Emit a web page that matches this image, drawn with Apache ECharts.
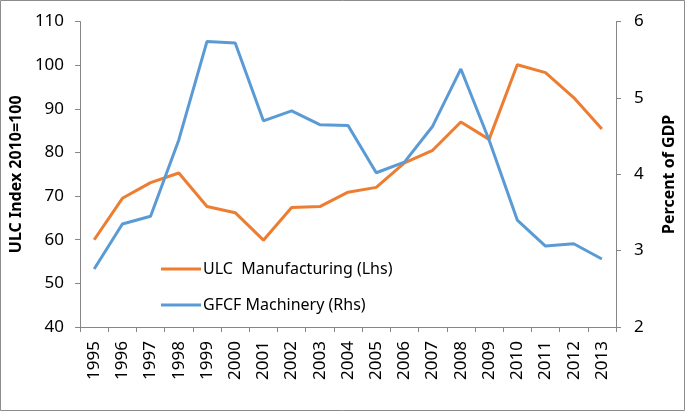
<!DOCTYPE html>
<html>
<head>
<meta charset="utf-8">
<script src="https://cdn.jsdelivr.net/npm/echarts@6/dist/echarts.min.js"></script>
<style>
html,body{margin:0;padding:0;background:#fff;}
#c{width:685px;height:411px;}
</style>
</head>
<body>
<div id="c"></div>
<script>
const years = ['1995','1996','1997','1998','1999','2000','2001','2002','2003','2004','2005','2006','2007','2008','2009','2010','2011','2012','2013'];
const ulcManufacturing = [60.0,69.5,73.1,75.3,67.6,66.2,59.9,67.4,67.6,70.9,72.0,77.6,80.5,87.0,83.0,100.1,98.3,92.6,85.4];
const gfcfMachinery = [2.76,3.35,3.45,4.45,5.74,5.72,4.70,4.83,4.65,4.64,4.02,4.16,4.63,5.38,4.45,3.40,3.06,3.09,2.89];
const leftTicks = {min:40,max:110,interval:10};
const rightTicks = {min:2,max:6,interval:1};

const font = 'Noto Sans, sans-serif';
const axisGray = '#868686';
const chart = echarts.init(document.getElementById('c'));
chart.setOption({
  animation:false,
  backgroundColor:'#fff',
  graphic:[{type:'rect',shape:{x:0.5,y:0.5,width:684,height:410},style:{fill:'none',stroke:'#8c8c8c',lineWidth:1},silent:true}],
  grid:{left:67,right:63,top:21.6,bottom:84,containLabel:false},
  legend:{
    orient:'vertical',left:156,top:256,itemGap:20,itemWidth:40,itemHeight:3,icon:'rect',
    textStyle:{fontFamily:font,fontSize:16,color:'#000',padding:[0,0,0,-3]},
    data:[{name:'ULC  Manufacturing (Lhs)'},{name:'GFCF Machinery (Rhs)'}]
  },
  xAxis:{
    type:'category',data:years,boundaryGap:true,
    axisLine:{lineStyle:{color:axisGray,width:1}},
    axisTick:{show:true,length:5,lineStyle:{color:axisGray}},
    axisLabel:{rotate:90,margin:14,fontFamily:font,fontSize:17,color:'#000',interval:0}
  },
  yAxis:[{
    type:'value',min:leftTicks.min,max:leftTicks.max,interval:leftTicks.interval,
    name:'ULC Index 2010=100',nameLocation:'middle',nameGap:49,nameRotate:90,
    nameTextStyle:{fontFamily:font,fontSize:16,fontWeight:'bold',color:'#000'},
    axisLine:{show:true,lineStyle:{color:axisGray}},
    axisTick:{show:true,length:5,lineStyle:{color:axisGray}},
    splitLine:{show:false},
    axisLabel:{margin:16,fontFamily:font,fontSize:17,color:'#000'}
  },{
    type:'value',position:'right',min:rightTicks.min,max:rightTicks.max,interval:rightTicks.interval,
    name:'Percent of GDP',nameLocation:'middle',nameGap:45,nameRotate:90,
    nameTextStyle:{fontFamily:font,fontSize:16,fontWeight:'bold',color:'#000'},
    axisLine:{show:true,lineStyle:{color:axisGray}},
    axisTick:{show:true,length:5,lineStyle:{color:axisGray}},
    splitLine:{show:false},
    axisLabel:{margin:18,fontFamily:font,fontSize:17,color:'#000'}
  }],
  series:[{
    name:'ULC  Manufacturing (Lhs)',type:'line',yAxisIndex:0,data:ulcManufacturing,
    symbol:'none',lineStyle:{color:'#ED7D31',width:3},itemStyle:{color:'#ED7D31'}
  },{
    name:'GFCF Machinery (Rhs)',type:'line',yAxisIndex:1,data:gfcfMachinery,
    symbol:'none',lineStyle:{color:'#5B9BD5',width:3},itemStyle:{color:'#5B9BD5'}
  }]
});
</script>
</body>
</html>
